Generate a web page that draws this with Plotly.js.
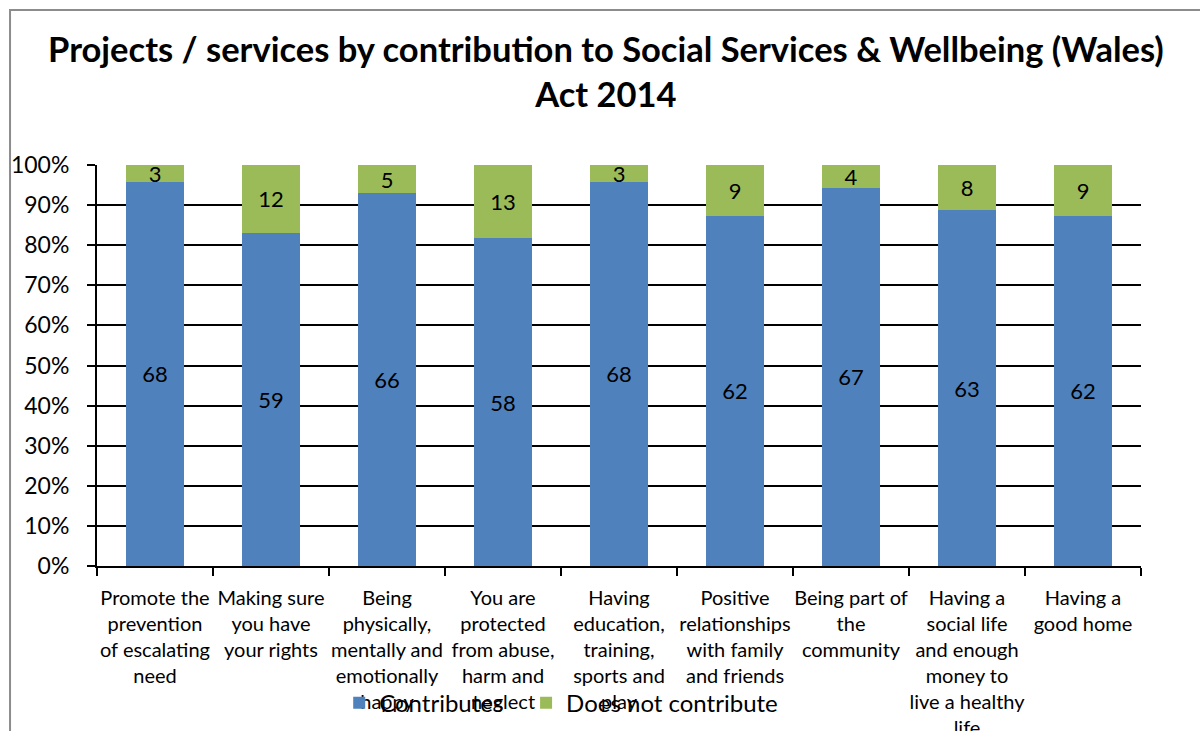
<!DOCTYPE html>
<html>
<head>
<meta charset="utf-8">
<script src="https://cdn.plot.ly/plotly-3.0.1.min.js"></script>
<style>html,body{margin:0;padding:0;background:#fff;}#chart{width:1200px;height:731px;}</style>
</head>
<body>
<div id="chart"></div>
<script>
var categories = [
  "Promote the<br>prevention<br>of escalating<br>need",
  "Making sure<br>you have<br>your rights",
  "Being<br>physically,<br>mentally and<br>emotionally<br>happy",
  "You are<br>protected<br>from abuse,<br>harm and<br>neglect",
  "Having<br>education,<br>training,<br>sports and<br>play",
  "Positive<br>relationships<br>with family<br>and friends",
  "Being part of<br>the<br>community",
  "Having a<br>social life<br>and enough<br>money to<br>live a healthy<br>life",
  "Having a<br>good home"
];
var contributes = [68, 59, 66, 58, 68, 62, 67, 63, 62];
var doesNotContribute = [3, 12, 5, 13, 3, 9, 4, 8, 9];
var yTickVals = [0, 10, 20, 30, 40, 50, 60, 70, 80, 90, 100];
var yTickText = ["0%", "10%", "20%", "30%", "40%", "50%", "60%", "70%", "80%", "90%", "100%"];

var FONT = "Lato, 'Open Sans', sans-serif";

var common = {
  type: "bar",
  textposition: "inside",
  insidetextanchor: "middle",
  textangle: 0,
  constraintext: "none",
  textfont: {family: FONT, size: 22, color: "#000"},
  hoverinfo: "x+y"
};

var traces = [
  Object.assign({}, common, {
    name: "Contributes",
    x: categories,
    y: contributes,
    text: contributes.map(String),
    marker: {color: "#4F81BD"},
    legend: "legend"
  }),
  Object.assign({}, common, {
    name: "Does not contribute",
    x: categories,
    y: doesNotContribute,
    text: doesNotContribute.map(String),
    marker: {color: "#9BBB59"},
    legend: "legend2"
  })
];

var legendBase = {
  orientation: "h",
  xanchor: "left",
  y: -0.342, yanchor: "middle",
  bgcolor: "rgba(0,0,0,0)",
  font: {family: FONT, size: 24, color: "#000"},
  itemwidth: 30
};

var layout = {
  width: 1200,
  height: 731,
  barmode: "stack",
  barnorm: "percent",
  bargap: 0.5,
  paper_bgcolor: "#fff",
  plot_bgcolor: "#fff",
  margin: {l: 97, r: 59, t: 165, b: 165, autoexpand: false},
  font: {family: FONT, color: "#000"},
  title: {
    text: "<b>Projects / services by contribution to Social Services & Wellbeing (Wales)<br>Act 2014</b>",
    font: {family: FONT, size: 34.5, color: "#000"},
    x: 0.4875, xref: "paper", xanchor: "center",
    y: 0.915, yref: "container", yanchor: "top"
  },
  xaxis: {
    type: "category",
    showline: true, linecolor: "#000", linewidth: 2,
    ticks: "outside", tickson: "boundaries", ticklen: 8, tickwidth: 2, tickcolor: "#000",
    tickfont: {family: FONT, size: 20, color: "#000"},
    ticklabelstandoff: 13,
    tickangle: 0,
    showgrid: false,
    automargin: false
  },
  yaxis: {
    range: [0, 100],
    tickvals: yTickVals,
    ticktext: yTickText,
    showline: true, linecolor: "#000", linewidth: 2,
    ticks: "outside", ticklen: 8, tickwidth: 2, tickcolor: "#000",
    ticklabelstandoff: 13,
    showgrid: true, gridcolor: "#000", gridwidth: 2,
    zeroline: false,
    tickfont: {family: FONT, size: 23, color: "#000"},
    automargin: false
  },
  legend: Object.assign({}, legendBase, {x: 0.232}),
  legend2: Object.assign({}, legendBase, {x: 0.411}),
  shapes: [{
    type: "rect", xref: "paper", yref: "paper",
    x0: -0.0833, x1: 1.2, y0: -0.6, y1: 1.3865,
    line: {color: "#8c8c8c", width: 2},
    fillcolor: "rgba(0,0,0,0)",
    layer: "below"
  }],
  showlegend: true
};

Plotly.newPlot("chart", traces, layout, {displayModeBar: false, staticPlot: true});
</script>
</body>
</html>
